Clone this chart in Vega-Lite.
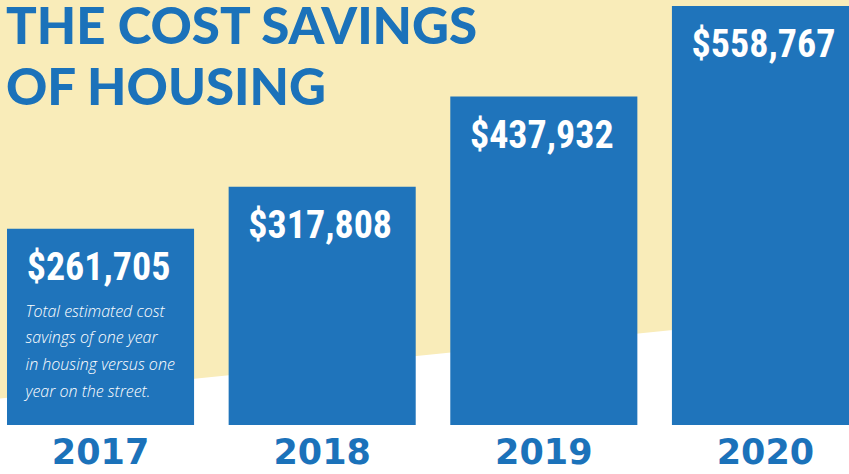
{
  "$schema": "https://vega.github.io/schema/vega-lite/v6.json",
  "width": 849,
  "height": 425,
  "autosize": {"type": "none"},
  "padding": {"left": 0, "top": 0, "right": 0, "bottom": 49},
  "background": "#ffffff",
  "config": {"view": {"stroke": null}},
  "title": {
    "text": ["THE COST SAVINGS", "OF HOUSING"],
    "anchor": "start",
    "frame": "group",
    "orient": "top",
    "baseline": "alphabetic",
    "offset": -156,
    "dx": 6,
    "font": "Lato",
    "fontWeight": 900,
    "fontSize": 51,
    "lineHeight": 61,
    "color": "#1B72BA"
  },
  "datasets": {
    "savings": [
      {"year": "2017", "value": 261705, "label": "$261,705", "note": ["Total estimated cost", "savings of one year", "in housing versus one", "year on the street."]},
      {"year": "2018", "value": 317808, "label": "$317,808", "note": []},
      {"year": "2019", "value": 437932, "label": "$437,932", "note": []},
      {"year": "2020", "value": 558767, "label": "$558,767", "note": []}
    ],
    "backdrop": [
      {"pos": 0, "edge": 35333, "top": 566667},
      {"pos": 1, "edge": 150667, "top": 566667}
    ]
  },
  "layer": [
    {
      "data": {"name": "backdrop"},
      "mark": {"type": "area", "color": "#F9ECB9", "clip": true},
      "encoding": {
        "x": {"field": "pos", "type": "quantitative", "scale": {"domain": [0, 1], "nice": false, "zero": false}, "axis": null},
        "y": {"field": "edge", "type": "quantitative", "scale": {"domain": [0, 566667], "nice": false}, "axis": null},
        "y2": {"field": "top"}
      }
    },
    {
      "data": {"name": "savings"},
      "encoding": {
        "x": {
          "field": "year",
          "type": "nominal",
          "sort": null,
          "scale": {"type": "band", "range": [7, 859], "paddingInner": 0.156, "paddingOuter": 0},
          "axis": {
            "title": null,
            "domain": false,
            "ticks": false,
            "grid": false,
            "labelAngle": 0,
            "labelPadding": 10,
            "labelFont": "DejaVu Sans",
            "labelFontWeight": "bold",
            "labelFontSize": 35,
            "labelColor": "#1B72BA"
          }
        },
        "y": {"field": "value", "type": "quantitative", "scale": {"domain": [0, 566667], "nice": false}, "axis": null}
      },
      "layer": [
        {"mark": {"type": "bar", "color": "#1F74BB", "clip": true}},
        {
          "mark": {"type": "text", "color": "#ffffff", "font": "'Roboto Condensed', 'DejaVu Sans Condensed', sans-serif", "fontWeight": "bold", "fontSize": 38, "baseline": "alphabetic", "align": "center", "dx": -2, "dy": 51},
          "encoding": {"text": {"field": "label"}}
        },
        {
          "mark": {"type": "text", "color": "#ffffff", "font": "Open Sans", "fontStyle": "italic", "fontWeight": 300, "fontSize": 16, "baseline": "alphabetic", "align": "left", "dx": -75, "dy": 88, "lineHeight": 26.7},
          "encoding": {"text": {"field": "note"}}
        }
      ]
    }
  ],
  "resolve": {"scale": {"x": "independent"}}
}
